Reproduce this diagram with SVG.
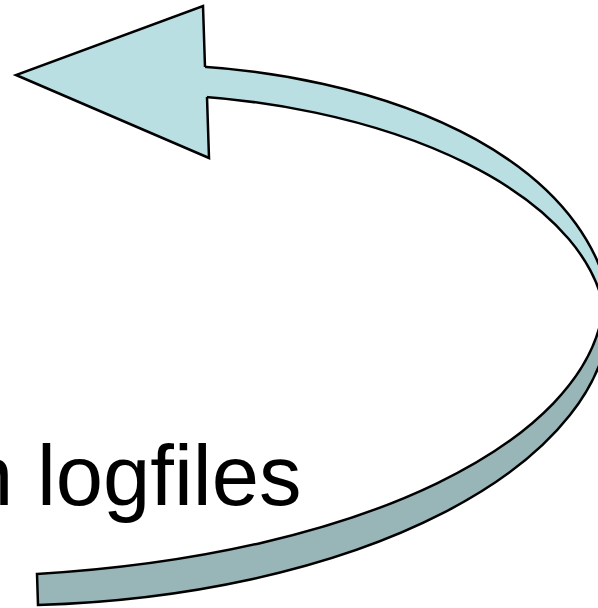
<svg xmlns="http://www.w3.org/2000/svg" width="598" height="608" viewBox="0 0 598 608">
  <style>
    .edge { stroke: #000; stroke-width: 2.5; stroke-linejoin: miter; }
    .front { fill: #B9DFE3; }
    .back { fill: #98B5B7; }
    .nostroke { stroke: none; }
    .outline { fill: none; stroke: #000; stroke-width: 2.5; stroke-linejoin: miter; }
    .label { font-family: "Liberation Sans", Arial, sans-serif; font-size: 85px; fill: #000; }
  </style>
  <rect width="598" height="608" fill="#fff"/>
  <g id="arrow-back">
    <path class="edge back" d="M 37,574 C 367,554.2 585,440 603,310 L 610,310 A 610 296 0 0 1 38,605 Z"/>
  </g>
  <g id="arrow-front">
    <path class="edge front" d="M 130,64 C 409.6,64 612,176.1 612,331 L 606,331 C 606,200.2 392.8,94 130,94 Z"/>
    <path class="front nostroke" d="M 16,75 L 203,6 L 205,67 L 207,97 L 209,158 Z"/>
    <path class="outline" d="M 205,67 L 203,6 L 16,75 L 209,158 L 207,97"/>
  </g>
  <g id="label">
    <text class="label" x="-34" y="505">n logfiles</text>
  </g>
</svg>
